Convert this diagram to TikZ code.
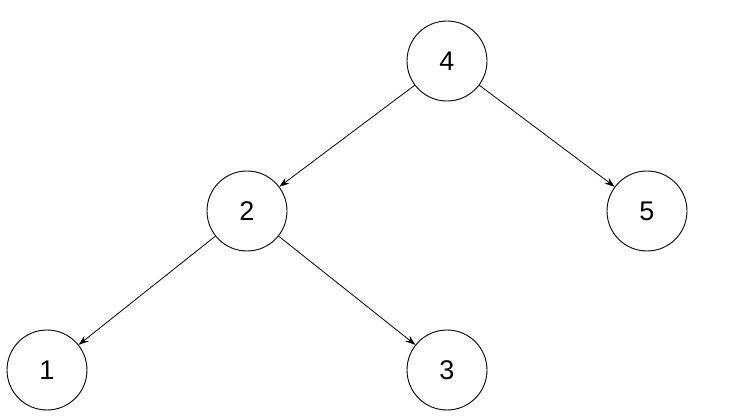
\documentclass[tikz,border=0pt]{standalone}
\usepackage{fontspec}
\setmainfont{Liberation Sans}
\usetikzlibrary{arrows.meta}
\tikzset{
  treenode/.style={draw,circle,minimum size=80pt,inner sep=0pt,line width=0.9pt,font=\fontsize{27}{32}\selectfont},
  treeedge/.style={-{Stealth[length=10pt,width=7pt]},line width=0.8pt}
}
\begin{document}
\begin{tikzpicture}[x=1pt,y=-1pt]
\useasboundingbox (0,0) rectangle (756,417);
\node[treenode] (n4) at (447,61) {4};
\node[treenode] (n2) at (247,211) {2};
\node[treenode] (n5) at (647,211) {5};
\node[treenode] (n1) at (47,370) {1};
\node[treenode] (n3) at (447,370) {3};
\draw[treeedge] (n4) -- (n2);
\draw[treeedge] (n4) -- (n5);
\draw[treeedge] (n2) -- (n1);
\draw[treeedge] (n2) -- (n3);
\end{tikzpicture}
\end{document}
